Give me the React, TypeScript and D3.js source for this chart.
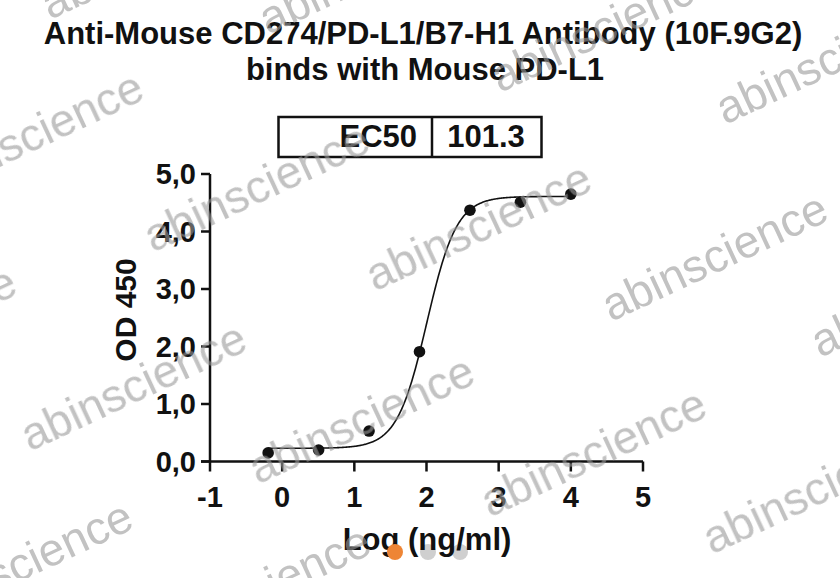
import React from 'react';
import * as d3 from 'd3';

// dilution series, log10(ng/ml) vs OD 450
const logConc = [-0.194, 0.505, 1.204, 1.903, 2.602, 3.301, 4.0];
const od450 = [0.15, 0.2, 0.53, 1.91, 4.37, 4.51, 4.65];

const xTicks = [-1, 0, 1, 2, 3, 4, 5];
const yTicks = [0, 1, 2, 3, 4, 5];

// 4PL fit parameters
const fitBottom = 0.23;
const fitTop = 4.61;
const ec50 = 101.3;
const hillSlope = 2.1;

const titleLines = [
  'Anti-Mouse CD274/PD-L1/B7-H1 Antibody (10F.9G2)',
  'binds with Mouse PD-L1',
];

// watermark baseline start points
const watermarkStarts: [number, number][] = [
  [153, 253], [375, 292], [611, 322], [30, 452], [258, 485], [490, 518],
  [712, 555], [500, 93], [268, 35], [50, 20], [725, 125], [-73, 201],
  [-200, 396], [-84, 630], [154, 655], [820, 358],
];

const FONT = '"Liberation Sans", Arial, Helvetica, sans-serif';

export default function App() {
  const width = 840;
  const height = 578;

  const x = d3.scaleLinear().domain([-1, 5]).range([210, 643]);
  const y = d3.scaleLinear().domain([0, 5]).range([461.5, 174]);

  const fit = (lx: number) =>
    fitBottom + (fitTop - fitBottom) / (1 + Math.pow(10, (Math.log10(ec50) - lx) * hillSlope));

  const xs = d3.range(logConc[0], logConc[logConc.length - 1] + 0.001, 0.01);
  const line = d3.line<number>()
    .x(d => x(d))
    .y(d => y(fit(d)))
    .curve(d3.curveLinear);

  const fmtY = (v: number) => d3.format('.1f')(v).replace('.', ',');

  const x0 = x.range()[0];
  const y0 = y.range()[0];

  return (
    <svg
      width={width}
      height={height}
      style={{ position: 'absolute', left: 0, top: 0, background: '#fff' }}
      fontFamily={FONT}
    >
      <rect width={width} height={height} fill="#fff" />

      {/* title */}
      <text x={423} y={44} textAnchor="middle" fontSize={31} fontWeight="bold" fill="#111">
        {titleLines[0]}
      </text>
      <text x={425} y={80} textAnchor="middle" fontSize={31} fontWeight="bold" fill="#111">
        {titleLines[1]}
      </text>

      {/* EC50 table */}
      <g fill="none" stroke="#111" strokeWidth={2.5}>
        <rect x={278.5} y={117} width={263} height={40} />
        <line x1={432} x2={432} y1={117} y2={157} />
      </g>
      <text x={417} y={147} textAnchor="end" fontSize={31} fontWeight="bold" fill="#111">EC50</text>
      <text x={486} y={147} textAnchor="middle" fontSize={31} fontWeight="bold" fill="#111">
        {ec50.toFixed(1)}
      </text>

      {/* y axis */}
      <line x1={x0} x2={x0} y1={y(5)} y2={y0} stroke="#111" strokeWidth={2.5} />
      {yTicks.map(t => (
        <g key={'y' + t}>
          <line x1={x0 - 9} x2={x0} y1={y(t)} y2={y(t)} stroke="#111" strokeWidth={2.5} />
          <text x={196} y={y(t)} dy="0.36em" textAnchor="end" fontSize={29} fontWeight="bold" fill="#111">
            {fmtY(t)}
          </text>
        </g>
      ))}
      <text
        transform={`translate(136,310) rotate(-90)`}
        textAnchor="middle"
        fontSize={30}
        fontWeight="bold"
        fill="#111"
      >
        OD 450
      </text>

      {/* x axis */}
      <line x1={x0 - 9} x2={x(5)} y1={y0} y2={y0} stroke="#111" strokeWidth={2.5} />
      {xTicks.map(t => (
        <g key={'x' + t}>
          <line x1={x(t)} x2={x(t)} y1={y0} y2={y0 + 10} stroke="#111" strokeWidth={2.5} />
          <text x={x(t)} y={507} textAnchor="middle" fontSize={29} fontWeight="bold" fill="#111">
            {t}
          </text>
        </g>
      ))}

      {/* carousel dots behind label */}
      <circle cx={428} cy={552} r={8} fill="#cfcfcf" />
      <circle cx={460} cy={552} r={8} fill="#cfcfcf" />
      <text x={427} y={550} textAnchor="middle" fontSize={31} fontWeight="bold" fill="#111">
        Log (ng/ml)
      </text>
      <circle cx={395} cy={552} r={8} fill="#ee8535" />

      {/* fit curve and points */}
      <path d={line(xs) || ''} fill="none" stroke="#111" strokeWidth={1.6} />
      {logConc.map((c, i) => (
        <circle key={'p' + i} cx={x(c)} cy={y(od450[i])} r={5.8} fill="#111" />
      ))}

      {/* watermarks */}
      <g fontSize={46} fill="#999" opacity={0.6}>
        {watermarkStarts.map(([wx, wy], i) => (
          <text key={'w' + i} transform={`translate(${wx},${wy}) rotate(-25)`}>
            abinscience
          </text>
        ))}
      </g>
    </svg>
  );
}
